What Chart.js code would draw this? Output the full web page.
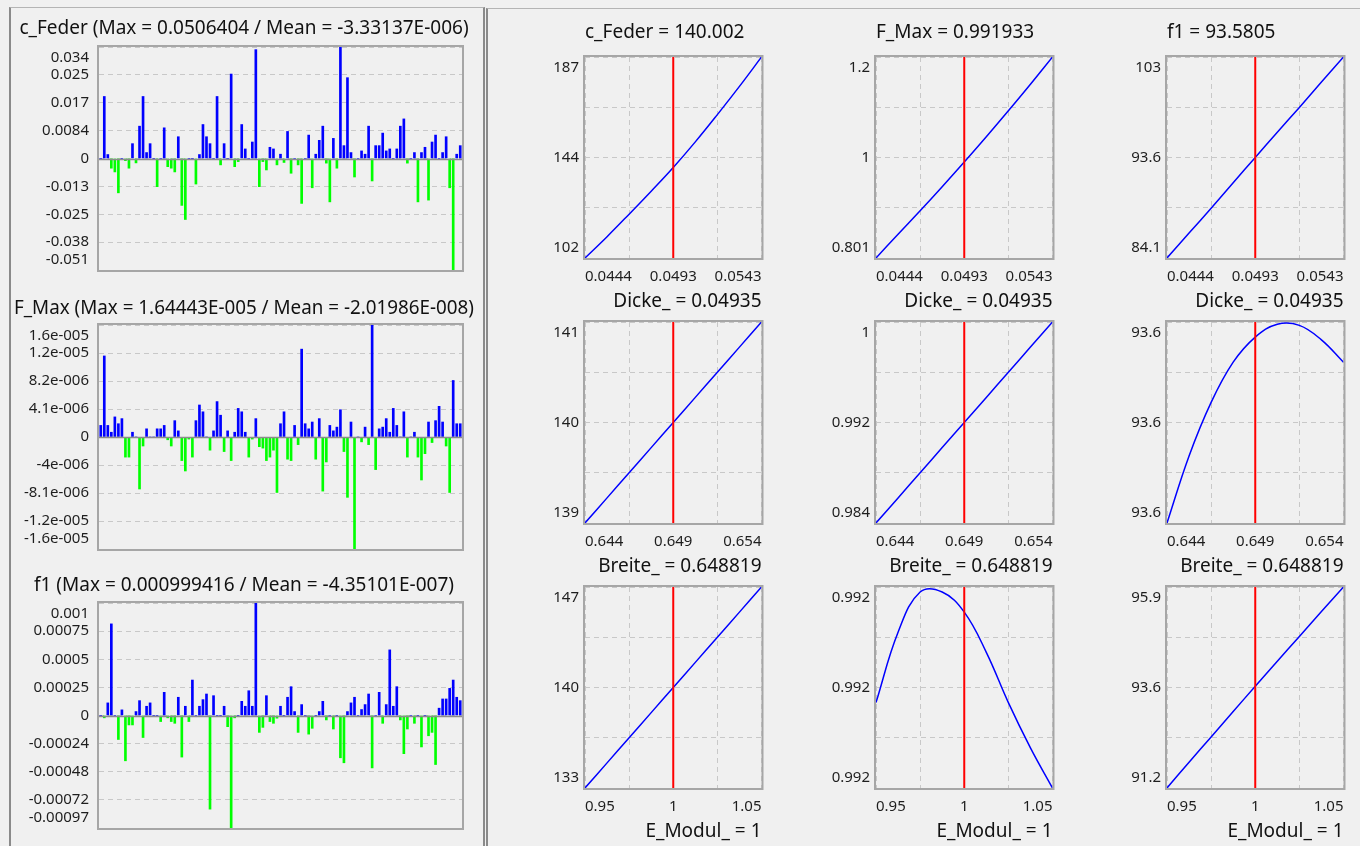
<!DOCTYPE html>
<html>
<head>
<meta charset="utf-8">
<script src="https://cdn.jsdelivr.net/npm/chart.js@4.4.1/dist/chart.umd.min.js"></script>
<style>
html, body { margin: 0; padding: 0; background: #f0f0f0; }
body { width: 1360px; height: 846px; position: relative; overflow: hidden; }
.panel { position: absolute; box-sizing: border-box; }
#left { left: 9px; top: 7px; width: 476px; height: 860px; border-top: 1px solid #b4b4b4; border-left: 2px solid #8a8a8a; border-right: 2px solid #8a8a8a; }
#right { left: 486px; top: 8px; width: 890px; height: 860px; border-top: 1px solid #b4b4b4; border-left: 2px solid #8a8a8a; }
canvas { position: absolute; }
</style>
</head>
<body>
<div class="panel" id="left"></div>
<div class="panel" id="right"></div>
<script>
// residuals per sample (left side)
var cFederResid = [0, 0.0188, 0.0012, -0.0044, -0.0061, -0.0156, 0, -0.001, -0.0044, 0.0045,
  -0.002, 0.0098, 0.0188, 0.0018, 0.0045, 0, -0.0128, 0, 0.0093, -0.0037,
  -0.0044, -0.0061, 0.0066, -0.0213, -0.0277, 0, 0, -0.0116, 0.0012, 0.0103,
  0.0066, 0.0045, 0, 0.0188, -0.0029, 0.0045, 0, 0.0256, -0.0037, -0.0014,
  0.0103, 0.0029, 0, 0.005, 0.033, -0.0128, -0.0014, -0.0052, 0.0034, 0.0029,
  -0.0029, 0.0013, -0.0018, 0.0082, -0.0067, 0, -0.0029, -0.0204, 0, 0.0071,
  -0.0133, 0.0013, 0.0055, 0.0098, -0.0021, -0.0197, 0.0061, -0.0044, 0.0338, 0.0039,
  0.0245, 0.0018, -0.0084, 0, 0.0023, 0.0013, 0.0098, -0.0102, 0.0039, 0.0039,
  0.0077, 0.0023, 0.0029, 0, 0.0029, 0.0098, 0.012, -0.0021, 0, 0.0018,
  -0.0197, 0.0018, 0.0034, -0.0189, 0.005, 0.0071, 0, 0.0018, 0.0066, -0.0133,
  -0.0506, 0.0013, 0.0039];
var fMaxResid = [1.7e-6, 1.19e-5, 1.7e-6, 0.7e-6, 2.95e-6, 1.95e-6, 2.7e-6, -2.9e-6, -2.9e-6, 0.7e-6,
  0, -7.5e-6, -1.3e-6, 1.2e-6, 0, 0, 1.2e-6, 1.2e-6, 1.7e-6, -0.4e-6,
  -1.3e-6, 2.4e-6, 0.9e-6, -3.4e-6, -4.9e-6, -0.3e-6, -2.9e-6, 2.4e-6, 4.7e-6, 3.7e-6,
  0, -1.9e-6, 0.9e-6, 5.2e-6, 3.2e-6, -2.1e-6, 0.9e-6, -3.4e-6, 0.7e-6, 4.2e-6,
  3.7e-6, 0.7e-6, -2.9e-6, -0.3e-6, 2.7e-6, -1.4e-6, -1.6e-6, -3.4e-6, -2.9e-6, -1.9e-6,
  -8e-6, 1.95e-6, 3.7e-6, -3.2e-6, -3.4e-6, 1.7e-6, -1.1e-6, 1.29e-5, 1.95e-6, 1.2e-6,
  2.2e-6, -3.2e-6, 2.7e-6, -7.8e-6, -3.6e-6, 1.7e-6, 0.9e-6, 1.45e-6, 4e-6, -2.1e-6,
  -8.7e-6, 2.2e-6, -1.615e-5, 0, -0.7e-6, 1.45e-6, -1.1e-6, 1.64443e-5, -4.7e-6, 1.2e-6,
  1.45e-6, 2.7e-6, 0.7e-6, 4.2e-6, 1.7e-6, 0, 3.7e-6, -2.9e-6, 0, 0.7e-6,
  -2.9e-6, -6.2e-6, -2.4e-6, 2.2e-6, -0.8e-6, 2.4e-6, 4.5e-6, 2.2e-6, -1.3e-6, -8e-6,
  8.3e-6, 1.95e-6, 1.95e-6];
var f1Resid = [0, -0.00002, 0.000112, 0.000814, 0, -0.000206, 0.00005, -0.000389, -0.000081, -0.000081,
  0.000035, 0.000132, -0.000189, 0.000082, 0.000112, 0, 0, -0.000052, 0.000206, -0.00002,
  -0.000052, -0.000067, 0.000162, -0.000357, 0.000082, -0.000052, 0.000315, 0, 0.000082, 0.000141,
  0.000191, -0.000804, 0.000176, 0, 0, 0.000082, -0.000096, -0.000966, -0.00002, 0,
  0.000126, 0.000082, 0.00022, 0.000082, 0.000999, -0.000145, -0.000102, 0.000176, -0.000052, -0.000067,
  -0.000023, 0.000082, 0, 0.000162, 0.000256, 0.000035, -0.000145, 0.000097, 0, -0.00016,
  -0.00011, 0, 0.000035, 0.000126, -0.000038, 0, -0.000116, 0, -0.000363, -0.000406,
  0.000035, 0.000112, 0.000162, 0, 0.000053, 0.000097, 0.000191, -0.00045, 0, 0.000206,
  -0.000067, 0.000097, 0.000583, 0.000082, 0.000256, -0.000038, -0.000328, -0.000116, 0, -0.000067,
  0, -0.00027, 0, -0.000174, -0.000145, -0.000421, 0.000065, 0.000147, 0.000147, 0.000241,
  0.000315, 0.000162, 0.000132];
var sampleNo = cFederResid.map(function (v, i) { return i + 1; });

// lower / upper end of each residual axis
var cFederRange = [-0.0506404, 0.0338];
var fMaxRange = [-1.615e-5, 1.64443e-5];
var f1Range = [-0.000966, 0.000999416];

// tick labels, bottom to top
var cFederResidTicks = ["-0.051", "-0.038", "-0.025", "-0.013", "0", "0.0084", "0.017", "0.025", "0.034"];
var fMaxResidTicks = ["-1.6e-005", "-1.2e-005", "-8.1e-006", "-4e-006", "0", "4.1e-006", "8.2e-006", "1.2e-005", "1.6e-005"];
var f1ResidTicks = ["-0.00097", "-0.00072", "-0.00048", "-0.00024", "0", "0.00025", "0.0005", "0.00075", "0.001"];

// sensitivity curves (right side)
var dickeX = [0.044415, 0.0456488, 0.0468825, 0.0481163, 0.04935, 0.0505838, 0.0518175, 0.0530513, 0.054285];
var breiteX = [0.643819, 0.645069, 0.646319, 0.647569, 0.648819, 0.650069, 0.651319, 0.652569, 0.653819];
var eModulX = [0.95, 0.9625, 0.975, 0.9875, 1, 1.0125, 1.025, 1.0375, 1.05];
var dickeTicks = ["0.0444", "0.0493", "0.0543"];
var breiteTicks = ["0.644", "0.649", "0.654"];
var eModulTicks = ["0.95", "1", "1.05"];
var inputNow = [0.04935, 0.648819, 1];
var inputTitles = ["Dicke_ = 0.04935", "Breite_ = 0.648819", "E_Modul_ = 1"];
var outputTitles = ["c_Feder = 140.002", "F_Max = 0.991933", "f1 = 93.5805"];

var cFederVsDicke = [101.8, 110.8, 120.3, 130.0, 140.0, 150.8, 162.3, 174.2, 186.6];
var fMaxVsDicke = [0.8015, 0.8487, 0.8952, 0.943, 0.9919, 1.0421, 1.0936, 1.1463, 1.2005];
var f1VsDicke = [84.1, 86.45, 88.8, 91.2, 93.58, 95.95, 98.3, 100.7, 103.05];
var cFederVsBreite = [138.92, 139.19, 139.46, 139.73, 140.0, 140.27, 140.54, 140.81, 141.08];
var fMaxVsBreite = [0.98428, 0.98619, 0.9881, 0.99002, 0.99193, 0.99384, 0.99576, 0.99767, 0.99958];
var f1VsBreite = [93.57884, 93.57944, 93.57992, 93.58028, 93.580505, 93.58062, 93.58061, 93.58048, 93.58028];
var cFederVsEModul = [133.0, 134.75, 136.5, 138.25, 140.0, 141.75, 143.5, 145.25, 147.0];
var fMaxVsEModul = [0.991915, 0.991929, 0.991937, 0.991937, 0.991933, 0.991925, 0.991915, 0.991906, 0.991898];
var f1VsEModul = [91.21, 91.81, 92.4, 92.99, 93.58, 94.16, 94.74, 95.32, 95.89];

// y axis extent [min, max] of each curve plot
var cFederDickeRange = [101.8, 186.6], fMaxDickeRange = [0.8015, 1.2005], f1DickeRange = [84.1, 103.05];
var cFederBreiteRange = [138.92, 141.08], fMaxBreiteRange = [0.98428, 0.99958], f1BreiteRange = [93.57884, 93.58064];
var cFederEModulRange = [133.0, 147.0], fMaxEModulRange = [0.991898, 0.991938], f1EModulRange = [91.21, 95.89];

var cFederDickeTicks = ["102", "144", "187"], fMaxDickeTicks = ["0.801", "1", "1.2"], f1DickeTicks = ["84.1", "93.6", "103"];
var cFederBreiteTicks = ["139", "140", "141"], fMaxBreiteTicks = ["0.984", "0.992", "1"], f1BreiteTicks = ["93.6", "93.6", "93.6"];
var cFederEModulTicks = ["133", "140", "147"], fMaxEModulTicks = ["0.992", "0.992", "0.992"], f1EModulTicks = ["91.2", "93.6", "95.9"];

Chart.defaults.font.family = '"Noto Sans", sans-serif';
Chart.defaults.color = "#1e1e1e";

// grey frame round the plot, and the zero line of the residual plots
Chart.register({
    id: "frame",
    afterDatasetsDraw: function (chart, args, opts) {
        var ctx = chart.ctx, a = chart.chartArea;
        ctx.save();
        if (opts.zero) {
            var y = Math.round(chart.scales.y.getPixelForValue(0)) + 0.5;
            ctx.strokeStyle = "#8c8c8c";
            ctx.lineWidth = 1.5;
            ctx.beginPath();
            ctx.moveTo(a.left, y);
            ctx.lineTo(a.right, y);
            ctx.stroke();
        }
        ctx.strokeStyle = "#a6a6a6";
        ctx.lineWidth = 2;
        ctx.strokeRect(a.left - 1, a.top - 1, a.right - a.left + 2, a.bottom - a.top + 2);
        ctx.restore();
    }
});

function makeCanvas(left, top, width, height) {
    var cv = document.createElement("canvas");
    cv.width = width;
    cv.height = height;
    cv.style.left = left + "px";
    cv.style.top = top + "px";
    cv.style.width = width + "px";
    cv.style.height = height + "px";
    document.body.appendChild(cv);
    return cv;
}

// keep the end labels inside the plot, like the original
function edgeLabel(labels, i, last) {
    if (i === 0) return [labels[0], ""];
    if (i === last) return ["", labels[labels.length - 1]];
    return labels[i];
}

function fixWidth(w) {
    return function (s) {
        s.width = w;
        s.paddingTop = 0;
        s.paddingBottom = 0;
    };
}

function residChart(top, titleY, plotTop, plotBottom, titleText, values, range, tickLabels) {
    var titleH = 19 * 1.2;
    var pt = titleY - top - titleH / 2;
    var pb = plotTop - top - pt - titleH;
    var cv = makeCanvas(14, top, 460, plotBottom + 2 - top);
    var negMax = -range[0], posMax = range[1];
    new Chart(cv, {
        type: "bar",
        data: {
            labels: sampleNo,
            datasets: [{
                data: values.map(function (v) { return v >= 0 ? v / posMax : v / negMax; }),
                backgroundColor: values.map(function (v) { return v >= 0 ? "#0000ff" : "#00ff00"; }),
                barThickness: 2,
                borderWidth: 0
            }]
        },
        options: {
            responsive: false,
            animation: false,
            layout: { padding: { bottom: 2 } },
            plugins: {
                legend: { display: false },
                tooltip: { enabled: false },
                title: { display: true, text: titleText, color: "#111", font: { size: 19, weight: "normal" }, padding: { top: pt, bottom: pb } },
                frame: { zero: true }
            },
            scales: {
                x: { display: false, offset: true },
                y: {
                    min: -1, max: 1,
                    afterBuildTicks: function (s) {
                        s.ticks = tickLabels.map(function (t, i) { return { value: -1 + i * 0.25 }; });
                    },
                    afterFit: fixWidth(85),
                    grid: { color: "#c8c8c8", drawTicks: false },
                    border: { display: false, dash: [5, 4] },
                    ticks: {
                        padding: 10, autoSkip: false, font: { size: 15, lineHeight: 1.4 },
                        callback: function (v, i) { return edgeLabel(tickLabels, i, tickLabels.length - 1); }
                    }
                },
                y2: {
                    position: "right", display: true,
                    afterFit: fixWidth(12),
                    grid: { display: false }, border: { display: false }, ticks: { display: false }
                }
            }
        }
    });
}

residChart(12, 28.5, 47, 270, "c_Feder (Max = 0.0506404 / Mean = -3.33137E-006)", cFederResid, cFederRange, cFederResidTicks);
residChart(292, 308.3, 325, 549, "F_Max (Max = 1.64443E-005 / Mean = -2.01986E-008)", fMaxResid, fMaxRange, fMaxResidTicks);
residChart(570, 585.8, 603, 828, "f1 (Max = 0.000999416 / Mean = -4.35101E-007)", f1Resid, f1Range, f1ResidTicks);

var rows = [
    { xs: dickeX, xTicks: dickeTicks, series: [cFederVsDicke, fMaxVsDicke, f1VsDicke],
      ranges: [cFederDickeRange, fMaxDickeRange, f1DickeRange], yTicks: [cFederDickeTicks, fMaxDickeTicks, f1DickeTicks] },
    { xs: breiteX, xTicks: breiteTicks, series: [cFederVsBreite, fMaxVsBreite, f1VsBreite],
      ranges: [cFederBreiteRange, fMaxBreiteRange, f1BreiteRange], yTicks: [cFederBreiteTicks, fMaxBreiteTicks, f1BreiteTicks] },
    { xs: eModulX, xTicks: eModulTicks, series: [cFederVsEModul, fMaxVsEModul, f1VsEModul],
      ranges: [cFederEModulRange, fMaxEModulRange, f1EModulRange], yTicks: [cFederEModulTicks, fMaxEModulTicks, f1EModulTicks] }
];

function quarters(lo, hi) {
    return [0, 1, 2, 3, 4].map(function (k) { return { value: lo + (hi - lo) * k / 4 }; });
}

function sensChart(r, c) {
    var row = rows[r];
    var ys = row.series[c], yLab = row.yTicks[c];
    var yMin = row.ranges[c][0], yMax = row.ranges[c][1];
    var xMin = row.xs[0], xMax = row.xs[row.xs.length - 1];
    var plotL = 585 + 291 * c, plotR = 762 + 291 * c;
    var plotT = 57 + 265 * r, plotB = 258 + 265 * r;
    var top = r === 0 ? 10 : plotT - 6;
    var cv = makeCanvas(plotL - 60, top, 60 + (plotR - plotL) + 8, plotB + 55 - top);

    var scales = {
        x: {
            type: "linear", min: xMin, max: xMax,
            afterBuildTicks: function (s) { s.ticks = quarters(xMin, xMax); },
            afterFit: function (s) { s.height = 55; },
            grid: { color: "#c8c8c8", drawTicks: false },
            border: { display: false, dash: [5, 4] },
            ticks: {
                autoSkip: false, maxRotation: 0, align: "inner", padding: 8.5,
                font: { size: 15, lineHeight: 1.4 },
                callback: function (v, i) { return i % 2 ? "" : row.xTicks[i / 2]; }
            },
            title: { display: true, text: inputTitles[r], align: "end", padding: { top: 0, bottom: 0 }, color: "#111", font: { size: 19 } }
        },
        y: {
            min: yMin, max: yMax,
            afterBuildTicks: function (s) { s.ticks = quarters(yMin, yMax); },
            afterFit: fixWidth(60),
            grid: { color: "#c8c8c8", drawTicks: false },
            border: { display: false, dash: [5, 4] },
            ticks: {
                autoSkip: false, padding: 6, font: { size: 15, lineHeight: 1.4 },
                callback: function (v, i) {
                    if (i % 2) return "";
                    return edgeLabel(yLab, i / 2, 2);
                }
            }
        }
    };
    if (r === 0) {
        scales.x2 = {
            type: "linear", position: "top", display: true,
            afterFit: function (s) { s.height = 47; },
            grid: { display: false }, border: { display: false }, ticks: { display: false },
            title: { display: true, text: outputTitles[c], align: "start", padding: { top: 11.6, bottom: 0 }, color: "#111", font: { size: 19 } }
        };
    }

    new Chart(cv, {
        type: "line",
        data: {
            datasets: [{
                data: [{ x: inputNow[r], y: yMin }, { x: inputNow[r], y: yMax }],
                borderColor: "#ff0000",
                borderWidth: 2,
                pointRadius: 0
            }, {
                data: row.xs.map(function (x, i) { return { x: x, y: ys[i] }; }),
                borderColor: "#0000ff",
                borderWidth: 1.5,
                pointRadius: 0,
                tension: 0.4
            }]
        },
        options: {
            responsive: false,
            animation: false,
            layout: { padding: { top: r === 0 ? 0 : 6, right: 8 } },
            plugins: { legend: { display: false }, tooltip: { enabled: false }, frame: { zero: false } },
            scales: scales
        }
    });
}

for (var r = 0; r < 3; r++) {
    for (var c = 0; c < 3; c++) {
        sensChart(r, c);
    }
}
</script>
</body>
</html>
